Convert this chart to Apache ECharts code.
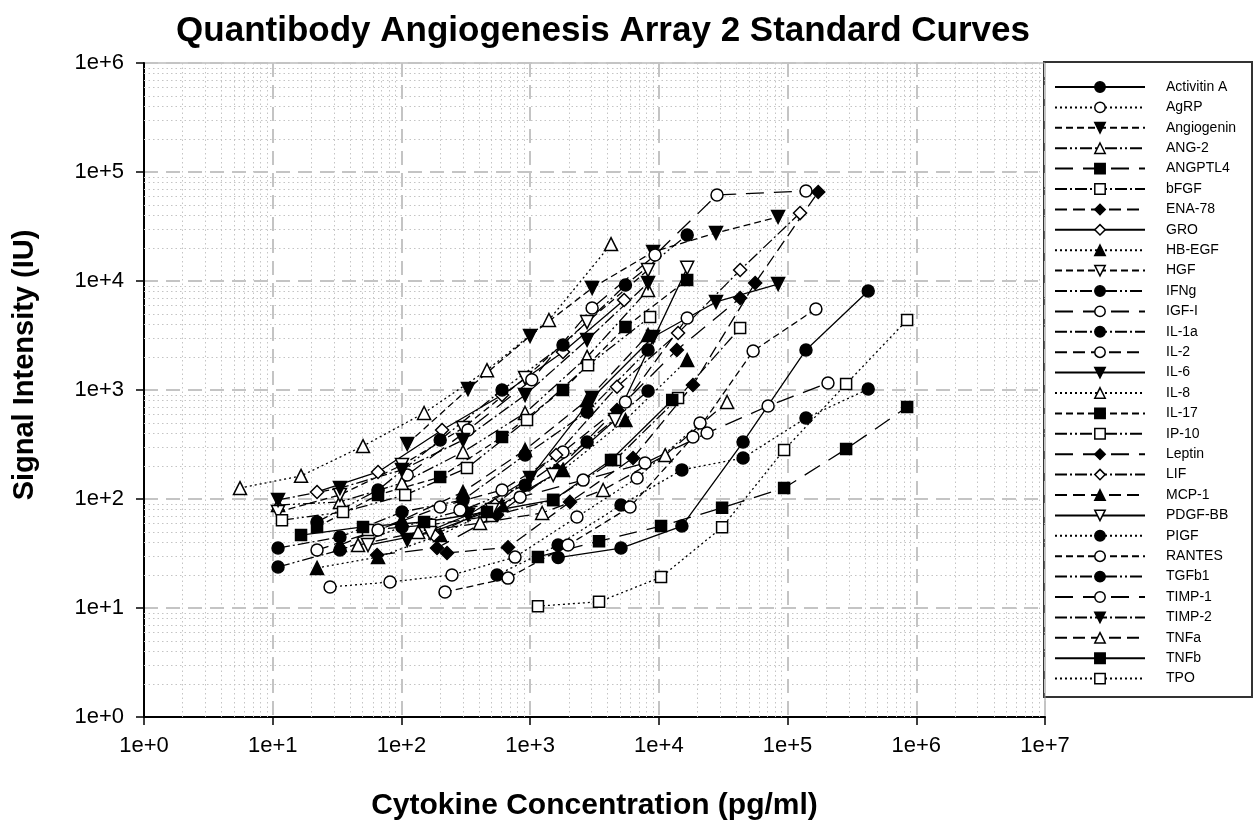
<!DOCTYPE html>
<html>
<head>
<meta charset="utf-8">
<title>Quantibody Angiogenesis Array 2 Standard Curves</title>
<script src="https://cdn.jsdelivr.net/npm/echarts@6/dist/echarts.min.js"></script>
<style>
  html, body { margin: 0; padding: 0; background: #fff; }
  #chart { width: 1258px; height: 828px; }
</style>
</head>
<body>
<div id="chart"></div>
<script>
// analyte names, in legend order
const names = ['Activitin A', 'AgRP', 'Angiogenin', 'ANG-2', 'ANGPTL4', 'bFGF', 'ENA-78', 'GRO',
  'HB-EGF', 'HGF', 'IFNg', 'IGF-I', 'IL-1a', 'IL-2', 'IL-6', 'IL-8', 'IL-17', 'IP-10', 'Leptin',
  'LIF', 'MCP-1', 'PDGF-BB', 'PIGF', 'RANTES', 'TGFb1', 'TIMP-1', 'TIMP-2', 'TNFa', 'TNFb', 'TPO'];

// [concentration pg/ml, signal IU]
const activitinA = [[1650, 29], [5080, 35.5], [15100, 56.5], [45100, 333], [139000, 2330], [423000, 8090]];
const agrp = [[27.9, 15.6], [81.5, 17.3], [247, 20.1], [763, 29.3], [2310, 68.4], [6780, 156], [20900, 498]];
const angiogenin = [[111, 320], [329, 1020], [998, 3130], [3030, 8630], [9020, 18500], [27800, 27600], [84400, 38700]];
const ang2 = [[11, 88], [33.3, 94], [101, 140], [301, 270], [913, 615], [2770, 2010], [8240, 8270]];
const angptl4 = [[1150, 29.4], [3430, 41], [10400, 56.5], [31000, 83], [94000, 126], [285000, 287], [849000, 698]];
const bfgf = [[55, 52], [167, 58], [506, 70], [1510, 98], [4570, 228], [14100, 845], [42800, 3710]];
const ena78 = [[226, 32], [673, 36], [2040, 94], [6300, 238], [18400, 1110], [56000, 9590], [173000, 65600]];
const gro = [[22.1, 116], [65.8, 177], [207, 430], [605, 900], [1800, 2230], [5370, 6700]];
const hbegf = [[22.1, 23.3], [65.8, 29.3], [200, 46.7], [605, 88], [1800, 185], [5500, 530], [16600, 1880]];
const hgf = [[11, 76], [33.3, 109], [101, 205], [301, 448], [913, 1290], [2770, 4200], [8240, 12600]];
const ifng = [[22.1, 61.5], [65.8, 121], [200, 348], [605, 1000], [1800, 2590], [5500, 9190], [16600, 26400]];
const igf1 = [[111, 166], [329, 430], [1030, 1240], [3030, 5650], [9340, 17300], [28300, 61500], [139000, 67000]];
const il1a = [[11, 35.5], [33.3, 44.8], [101, 76], [301, 98], [913, 253], [2770, 628], [8240, 2330]];
const il2 = [[22.1, 34], [65.8, 52], [200, 84.5], [605, 121], [1800, 270], [5500, 776], [16600, 4580]];
const il6 = [[111, 42], [329, 71.3], [998, 156], [3030, 845], [9020, 3060], [27800, 6420], [84400, 9380]];
const il8 = [[5.57, 126], [16.6, 163], [50.3, 306], [150, 615], [462, 1520], [1400, 4390], [4250, 21800]];
const il17 = [[22.1, 55.4], [65.8, 109], [200, 159], [605, 370], [1800, 1000], [5500, 3780], [16600, 10200]];
const ip10 = [[11.8, 64], [35.2, 76], [107, 109], [323, 192], [946, 530], [2820, 1690], [8550, 4680]];
const leptin = [[64.7, 30.6], [189, 35.5], [553, 71.3], [1620, 185], [4730, 656], [13800, 2330], [42800, 6980]];
const lif = [[179, 46.7], [534, 88], [1590, 253], [4730, 1070], [14100, 3330], [42800, 12600], [125000, 42000]];
const mcp1 = [[33.3, 37.8], [101, 64], [301, 116], [913, 282], [2770, 809], [8240, 3200]];
const pdgfbb = [[55, 37.8], [167, 48.8], [506, 79.3], [1510, 166], [4570, 530], [16600, 13200]];
const pigf = [[553, 20.1], [1650, 37.8], [5080, 88], [15100, 185], [45100, 238], [139000, 553], [423000, 1020]];
const rantes = [[218, 14], [673, 18.8], [1970, 37.8], [5970, 84.5], [18400, 370], [54000, 2280], [166000, 5540]];
const tgfb1 = [[11, 23.8], [33.3, 34], [101, 55.4], [301, 79.3], [913, 134], [2770, 333], [8240, 979]];
const timp1 = [[285, 79.3], [835, 104], [2580, 149], [7810, 214], [23700, 403], [70600, 713], [206000, 1160]];
const timp2 = [[11, 98], [33.3, 126], [101, 185], [301, 348], [913, 900], [2770, 2880], [8240, 9590]];
const tnfa = [[46, 37.8], [135, 49.8], [408, 60.2], [1240, 74.4], [3690, 121], [11200, 253], [33900, 776]];
const tnfb = [[16.6, 46.7], [50.3, 55.4], [150, 61.5], [462, 76], [1510, 98], [4250, 228], [12700, 809]];
const tpo = [[1150, 10.4], [3430, 11.4], [10400, 19.2], [31000, 55], [94000, 282], [285000, 1135], [849000, 4390]];

const curves = [activitinA, agrp, angiogenin, ang2, angptl4, bfgf, ena78, gro, hbegf, hgf, ifng, igf1,
  il1a, il2, il6, il8, il17, ip10, leptin, lif, mcp1, pdgfbb, pigf, rantes, tgfb1, timp1, timp2, tnfa, tnfb, tpo];

// line dash patterns repeat every 7 series
const dashes = ['solid', [2, 3], [7, 4], [12, 3, 2, 3, 2, 3], [18, 10], [12, 3, 2, 3], [12, 6]];
// marker shape per series, filled or open
const shapes = ['circle', 'circle', 'down', 'triangle', 'rect', 'rect', 'diamond', 'diamond',
  'triangle', 'down', 'circle', 'circle', 'circle', 'circle', 'down', 'triangle', 'rect', 'rect',
  'diamond', 'diamond', 'triangle', 'down', 'circle', 'circle', 'circle', 'circle', 'down', 'triangle', 'rect', 'rect'];
const filled = [1, 0, 1, 0, 1, 0, 1, 0, 1, 0, 1, 0, 1, 0, 1, 0, 1, 0, 1, 0, 1, 0, 1, 0, 1, 0, 1, 0, 1, 0];

// minor grid at 2..9 within each decade
const minorSteps = [2, 3, 4, 5, 6, 7, 8, 9];
const xDecades = [1, 10, 100, 1e3, 1e4, 1e5, 1e6];
const yDecades = [1, 10, 100, 1e3, 1e4, 1e5];

const font = 'Liberation Sans';
const chart = echarts.init(document.getElementById('chart'));

const minorLines = [];
xDecades.forEach(d => minorSteps.forEach(n => minorLines.push({ xAxis: n * d })));
yDecades.forEach(d => minorSteps.forEach(n => minorLines.push({ yAxis: n * d })));

const series = names.map((name, i) => {
  const s = shapes[i];
  const sym = s === 'down' ? 'triangle' : s;
  const size = s === 'rect' ? 11 : (s === 'circle' ? 12 : 13);
  return {
    name: name,
    type: 'line',
    data: curves[i],
    symbol: sym,
    symbolRotate: s === 'down' ? 180 : 0,
    symbolSize: size,
    showSymbol: true,
    showAllSymbol: true,
    lineStyle: { color: '#000', width: 1.3, type: dashes[i % 7] },
    itemStyle: { color: filled[i] ? '#000' : '#fff', borderColor: '#000', borderWidth: 1.5 },
    emphasis: { disabled: true },
    z: 3
  };
});

series.push({
  name: 'minor grid',
  type: 'line',
  data: [],
  silent: true,
  z: 1,
  markLine: {
    silent: true,
    z: 1,
    symbol: ['none', 'none'],
    label: { show: false },
    emphasis: { disabled: true },
    lineStyle: { color: '#c4c4c4', width: 1, type: [1.5, 3] },
    data: minorLines
  }
});

const logLabel = v => '1e+' + Math.round(Math.log10(v));

chart.setOption({
  animation: false,
  backgroundColor: '#fff',
  title: {
    text: 'Quantibody Angiogenesis Array 2 Standard Curves',
    left: 598,
    top: 9,
    textAlign: 'center',
    textStyle: { fontFamily: font, fontWeight: 'bold', fontSize: 35, color: '#000' }
  },
  grid: {
    left: 144, right: 213, top: 63, bottom: 111,
    show: true, borderColor: '#999', borderWidth: 1
  },
  xAxis: {
    type: 'log', logBase: 10, min: 1, max: 1e7, splitNumber: 7,
    name: 'Cytokine Concentration (pg/ml)',
    nameLocation: 'middle', nameGap: 74,
    nameTextStyle: { fontFamily: font, fontWeight: 'bold', fontSize: 30, color: '#000' },
    axisLine: { lineStyle: { color: '#000', width: 2 } },
    axisTick: { show: true, length: 8, lineStyle: { color: '#000', width: 1.5 } },
    axisLabel: { formatter: logLabel, fontFamily: font, fontSize: 22, color: '#000', margin: 18 },
    splitLine: { show: true, lineStyle: { color: '#c4c4c4', width: 2, type: [14, 8] } }
  },
  yAxis: {
    type: 'log', logBase: 10, min: 1, max: 1e6, splitNumber: 6,
    axisLine: { show: true, lineStyle: { color: '#000', width: 2 } },
    axisTick: { show: true, length: 8, lineStyle: { color: '#000', width: 1.5 } },
    axisLabel: { formatter: logLabel, fontFamily: font, fontSize: 22, color: '#000', margin: 20 },
    splitLine: { show: true, lineStyle: { color: '#c4c4c4', width: 2, type: [14, 8] } }
  },
  legend: {
    orient: 'vertical',
    left: 1054, top: 80,
    padding: 0,
    itemWidth: 90, itemHeight: 13, itemGap: 6.4,
    selectedMode: false,
    data: names,
    itemStyle: { borderWidth: 1.5 },
    textStyle: { fontFamily: font, fontSize: 14, lineHeight: 13, color: '#000', padding: [0, 0, 0, 16] }
  },
  graphic: [{
    type: 'rect', z: -1,
    shape: { x: 1044, y: 62, width: 208, height: 635 },
    style: { fill: '#fff', stroke: '#333', lineWidth: 2 }
  }, {
    type: 'text',
    x: 25, y: 365,
    rotation: Math.PI / 2,
    style: {
      text: 'Signal Intensity (IU)',
      fontFamily: font, fontWeight: 'bold', fontSize: 29, fill: '#000',
      align: 'center', verticalAlign: 'middle'
    }
  }],
  series: series
});
</script>
</body>
</html>
